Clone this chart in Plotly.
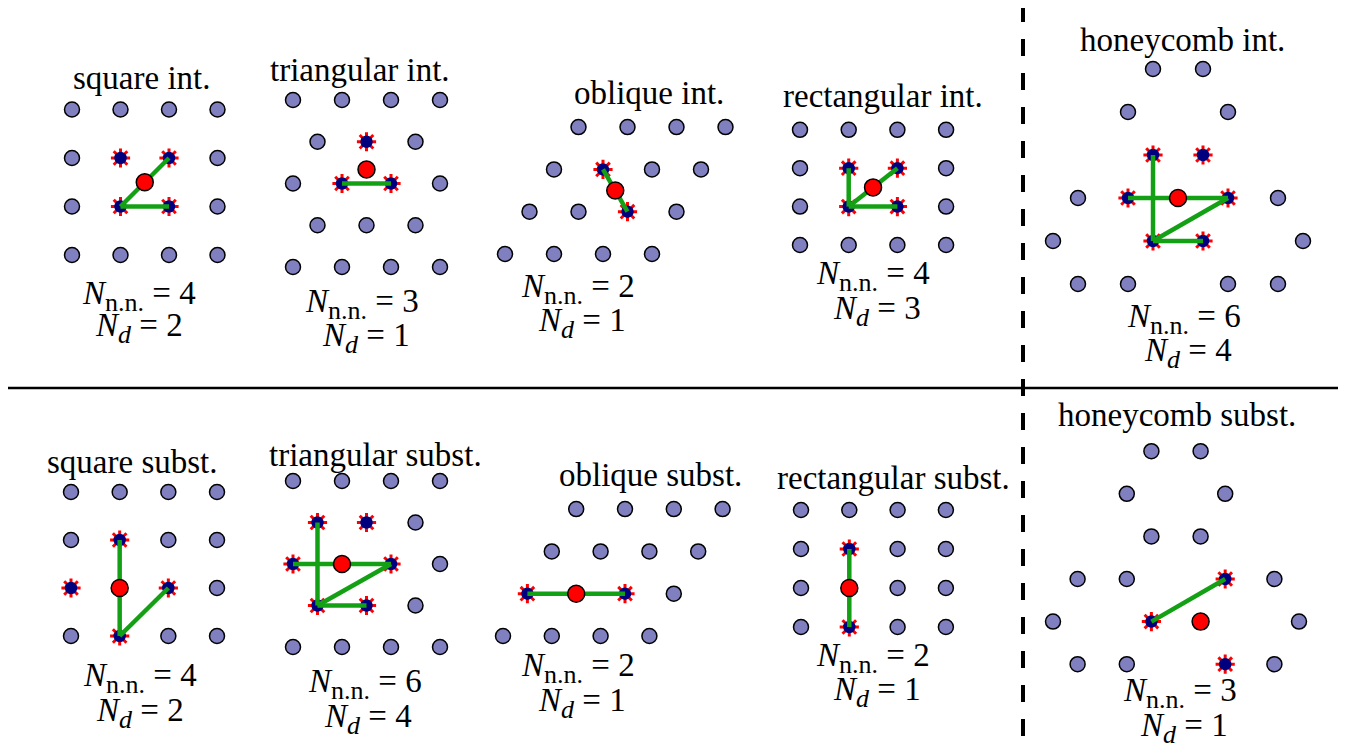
import plotly.graph_objects as go

W, H = 1347, 746
OFF = 8  # page offset of the figure (default body margin)

# ---------------- data (lattice units: x in lattice spacings, y in rows) ----------------
sq_x = [0, 1, 2, 3, 0, 1, 2, 3, 0, 1, 2, 3, 0, 1, 2, 3]
sq_y = [0, 0, 0, 0, 1, 1, 1, 1, 2, 2, 2, 2, 3, 3, 3, 3]

tri_x = [0, 1, 2, 3, 0.5, 1.5, 2.5, 0, 1, 2, 3, 0.5, 1.5, 2.5, 0, 1, 2, 3]
tri_y = [0, 0, 0, 0, 1, 1, 1, 2, 2, 2, 2, 3, 3, 3, 4, 4, 4, 4]

obl_x = [0, 1, 2, 3, 0.5, 1.5, 2.5, 3.5, 1, 2, 3, 4, 1.5, 2.5, 3.5, 4.5]
obl_y = [0, 0, 0, 0, 1, 1, 1, 1, 2, 2, 2, 2, 3, 3, 3, 3]

hc_x = [-0.5, 0.5, -1, 1, -0.5, 0.5, -2, -1, 1, 2, -2.5, -0.5, 0.5, 2.5, -2, -1, 1, 2]
hc_y = [3, 3, 2, 2, 1, 1, 0, 0, 0, 0, -1, -1, -1, -1, -2, -2, -2, -2]

titles = ["square int.", "triangular int.", "oblique int.", "rectangular int.", "honeycomb int.",
          "square subst.", "triangular subst.", "oblique subst.", "rectangular subst.", "honeycomb subst."]
n_nn = [4, 3, 2, 4, 6, 4, 6, 2, 2, 3]
n_d = [2, 1, 1, 3, 4, 2, 4, 1, 1, 1]

lattices = [(sq_x, sq_y), (tri_x, tri_y), (obl_x, obl_y), (sq_x, sq_y), (hc_x, hc_y),
            (sq_x, sq_y), (tri_x, tri_y), (obl_x, obl_y), (sq_x, sq_y), (hc_x, hc_y)]

highlight_x = [[1, 2, 1, 2], [1.5, 1, 2], [2, 2.5], [1, 2, 1, 2], [-0.5, 0.5, -1, 1, -0.5, 0.5],
               [1, 0, 2, 1], [0.5, 1.5, 0, 2, 0.5, 1.5], [0.5, 2.5], [1, 1], [1, -0.5, 1]]
highlight_y = [[1, 1, 2, 2], [3, 2, 2], [2, 1], [1, 1, 2, 2], [1, 1, 0, 0, -1, -1],
               [2, 1, 1, 0], [3, 3, 2, 2, 1, 1], [1, 1], [0, 2], [0, -1, -2]]

defect_x = [1.5, 1.5, 2.25, 1.5, 0, 1, 1, 1.5, 1, 0.5]
defect_y = [1.5, 2 + 1 / 3, 1.5, 1.5, 0, 1, 2, 1, 1, -1]

# bonds: (x0, y0, x1, y1)
bonds = [
    [(1, 1, 2, 2), (1, 1, 2, 1)],
    [(1, 2, 2, 2)],
    [(2, 2, 2.5, 1)],
    [(1, 1, 1, 2), (1, 1, 2, 2), (1, 1, 2, 1)],
    [(-0.5, 1, -0.5, -1), (-1, 0, 1, 0), (-0.5, -1, 1, 0), (-0.5, -1, 0.5, -1)],
    [(1, 0, 1, 2), (1, 0, 2, 1)],
    [(0.5, 3, 0.5, 1), (0, 2, 2, 2), (0.5, 1, 2, 2), (0.5, 1, 1.5, 1)],
    [(0.5, 1, 2.5, 1)],
    [(1, 0, 1, 2)],
    [(-0.5, -1, 1, 0)],
]

# ---------------- layout of panels (page pixel of lattice (0,0) and px per unit) ----------------
panel_geom = [
    (72, 255, 48.5, 48.5),
    (293, 267, 49.0, 41.75),
    (505, 254, 49.0, 42.3),
    (800, 245, 48.7, 38.4),
    (1178, 198, 50.0, 43.0),
    (71, 636, 48.67, 48.0),
    (293, 647, 49.0, 41.5),
    (503, 636, 48.8, 42.3),
    (801, 627, 48.3, 39.0),
    (1176, 579, 49.2, 42.6),
]
title_pos = [(141, 78), (360, 70), (649, 93), (883, 96), (1182, 40),
             (132, 462), (375, 455), (650, 475), (893, 478), (1177, 415)]
eq_pos = [(139, 296, 139, 328), (362, 304, 366, 338), (578, 289, 582, 323), (873, 276, 877, 311),
          (1184, 319, 1188, 353), (140, 678, 140, 713), (365, 684, 368, 719), (578, 668, 582, 703),
          (873, 658, 877, 692), (1180, 693, 1184, 728)]


def fx(px):
    return (px - OFF) / W


def fy(py):
    return 1 - (py - OFF) / H


LAT_COL = "#8080c0"
NAVY = "#00007f"
GREEN = "rgb(20,160,20)"
FONT = "Liberation Serif"

fig = go.Figure()
layout_axes = {}
annotations = []

for i in range(10):
    k = i + 1
    xa = "x" if k == 1 else f"x{k}"
    ya = "y" if k == 1 else f"y{k}"
    ox, oy, sx, sy = panel_geom[i]
    ox -= OFF
    oy -= OFF
    lx, ly = lattices[i]
    hl = set(zip(highlight_x[i], highlight_y[i]))
    dfc = (defect_x[i], defect_y[i])
    nx, ny = [], []
    for a, b in zip(lx, ly):
        if (a, b) in hl or (a, b) == dfc:
            continue
        nx.append(a)
        ny.append(b)
    fig.add_trace(go.Scatter(x=nx, y=ny, mode="markers", xaxis=xa, yaxis=ya, showlegend=False,
                             hoverinfo="skip", cliponaxis=False,
                             marker=dict(size=15, color=LAT_COL, line=dict(color="black", width=1.5))))
    fig.add_trace(go.Scatter(x=highlight_x[i], y=highlight_y[i], mode="markers", xaxis=xa, yaxis=ya,
                             showlegend=False, hoverinfo="skip", cliponaxis=False,
                             marker=dict(size=16, symbol="asterisk-open", color="red",
                                         line=dict(color="red", width=3))))
    fig.add_trace(go.Scatter(x=highlight_x[i], y=highlight_y[i], mode="markers", xaxis=xa, yaxis=ya,
                             showlegend=False, hoverinfo="skip", cliponaxis=False,
                             marker=dict(size=12.5, color=NAVY, line=dict(width=0))))
    bx, by = [], []
    for (x0, y0, x1, y1) in bonds[i]:
        bx += [x0, x1, None]
        by += [y0, y1, None]
    fig.add_trace(go.Scatter(x=bx, y=by, mode="lines", xaxis=xa, yaxis=ya, showlegend=False,
                             hoverinfo="skip", cliponaxis=False,
                             line=dict(color=GREEN, width=4.5)))
    fig.add_trace(go.Scatter(x=[defect_x[i]], y=[defect_y[i]], mode="markers", xaxis=xa, yaxis=ya,
                             showlegend=False, hoverinfo="skip", cliponaxis=False,
                             marker=dict(size=17, color="red", line=dict(color="black", width=1.5))))
    axkw = dict(visible=False, showgrid=False, zeroline=False, domain=[0, 1], fixedrange=True)
    layout_axes["xaxis" if k == 1 else f"xaxis{k}"] = dict(range=[-ox / sx, (W - ox) / sx],
                                                          anchor=ya, **axkw)
    layout_axes["yaxis" if k == 1 else f"yaxis{k}"] = dict(range=[(oy - H) / sy, oy / sy],
                                                          anchor=xa, **axkw)

    tx, ty = title_pos[i]
    annotations.append(dict(text=titles[i], x=fx(tx), y=fy(ty), xref="paper", yref="paper",
                            xanchor="center", yanchor="middle", showarrow=False,
                            font=dict(family=FONT, size=33, color="black")))
    ax1, ay1, ax2, ay2 = eq_pos[i]
    annotations.append(dict(text=f"<i>N</i><sub><span style='font-size:26px'>n.n.</span></sub> = {n_nn[i]}",
                            x=fx(ax1), y=fy(ay1),
                            xref="paper", yref="paper", xanchor="center", yanchor="middle",
                            showarrow=False,
                            font=dict(family=FONT, size=33, color="black")))
    annotations.append(dict(text=f"<i>N<sub><span style='font-size:26px'>d</span></sub></i> = {n_d[i]}",
                            x=fx(ax2), y=fy(ay2),
                            xref="paper", yref="paper", xanchor="center", yanchor="middle",
                            showarrow=False,
                            font=dict(family=FONT, size=33, color="black")))

shapes = [
    dict(type="line", xref="paper", yref="paper", x0=fx(7), x1=fx(1338), y0=fy(388), y1=fy(388),
         line=dict(color="black", width=2.5)),
    dict(type="line", xref="paper", yref="paper", x0=fx(1023), x1=fx(1023), y0=fy(5), y1=fy(760),
         line=dict(color="black", width=4, dash="17px,17px")),
]

fig.update_layout(width=W, height=H, margin=dict(l=0, r=0, t=0, b=0),
                  paper_bgcolor="white", plot_bgcolor="rgba(0,0,0,0)",
                  annotations=annotations, shapes=shapes, **layout_axes)

fig.write_html("out.html")
